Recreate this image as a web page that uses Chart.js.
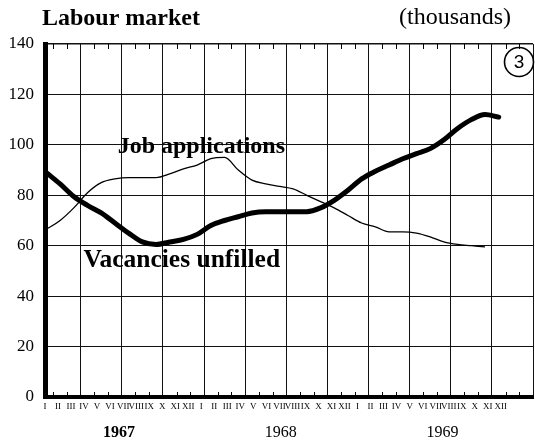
<!DOCTYPE html>
<html lang="en">
<head>
<meta charset="UTF-8">
<title>Labour market</title>
<script src="https://cdn.jsdelivr.net/npm/chart.js@4.4.0/dist/chart.umd.min.js"></script>
<style>
  html, body { margin: 0; padding: 0; background: #fff; }
  #wrap { width: 535px; height: 442px; }
</style>
</head>
<body>
<div id="wrap"><canvas id="labourChart" width="535" height="442"></canvas></div>
<script>
// monthly figures in thousands, starting January 1967
const romanMonths = ['I', 'II', 'III', 'IV', 'V', 'VI', 'VII', 'VIII', 'IX', 'X', 'XI', 'XII'];
const years = ['1967', '1968', '1969'];
const yTicks = [0, 20, 40, 60, 80, 100, 120, 140];

const vacancies = [89, 84.5, 79.5, 76, 73, 69, 65, 61.5, 60.5, 61.5, 62.5, 64.5,
                   68, 70, 71.5, 73, 73.5, 73.5, 73.5, 73.5, 75, 78, 82, 86.5,
                   89.5, 92, 94.5, 96.5, 98.5, 102, 106.5, 110, 112, 111];
const jobApplications = [66.5, 70, 75, 81, 85, 86.5, 87, 87, 87, 88.5, 90.5, 92,
                         94.5, 95, 90, 86, 84.5, 83.5, 82.5, 80, 77.5, 75, 72, 69,
                         67.5, 65.5, 65.5, 65, 63.5, 61.5, 60.5, 60, 59.5];

const serif = '"Liberation Serif", "Times New Roman", serif';
const monthCount = years.length * 12;
const xMin = 0.4;

// each value sits in the middle of its month
const toPoints = arr => arr.map((v, i) => ({ x: i + 0.5, y: v }));

// titles, year captions, line captions, little month ticks, circled number
const decorations = {
    id: 'decorations',
    afterDraw(chart) {
        const ctx = chart.ctx;
        const x = chart.scales.x, y = chart.scales.y;
        const area = chart.chartArea;
        ctx.save();
        ctx.fillStyle = '#000';
        ctx.strokeStyle = '#000';

        // month ticks on the top and bottom edges
        ctx.lineWidth = 1;
        for (let m = 1; m < monthCount; m++) {
            if (m % 3 === 0) continue;
            const px = Math.round(x.getPixelForValue(m)) + 0.5;
            ctx.beginPath();
            ctx.moveTo(px, area.top);
            ctx.lineTo(px, area.top + 5);
            ctx.moveTo(px, area.bottom);
            ctx.lineTo(px, area.bottom - 5);
            ctx.stroke();
        }

        ctx.textBaseline = 'alphabetic';
        ctx.font = 'bold 24px ' + serif;
        ctx.textAlign = 'left';
        ctx.fillText('Labour market', 42, 25);
        ctx.font = '24px ' + serif;
        ctx.textAlign = 'right';
        ctx.fillText('(thousands)', 511, 24);

        // line captions
        ctx.textAlign = 'left';
        ctx.font = 'bold 24px ' + serif;
        ctx.fillText('Job applications', x.getPixelForValue(5.7), y.getPixelForValue(96.8));
        ctx.font = 'bold 25.5px ' + serif;
        ctx.fillText('Vacancies unfilled', x.getPixelForValue(3.2), y.getPixelForValue(51.6));

        // year captions under the month numerals
        const yearAnchor = [5.8, 17.6, 29.4];
        ctx.textAlign = 'center';
        ctx.textBaseline = 'middle';
        years.forEach((yr, k) => {
            ctx.font = (k === 0 ? 'bold ' : '') + '16px ' + serif;
            ctx.fillText(yr, x.getPixelForValue(yearAnchor[k]), 433);
        });

        // circled chart number
        ctx.lineWidth = 1.6;
        ctx.beginPath();
        ctx.arc(519, 62, 14.5, 0, Math.PI * 2);
        ctx.stroke();
        ctx.font = '19px "Liberation Sans", Arial, sans-serif';
        ctx.fillText('3', 519, 63);
        ctx.restore();
    }
};

new Chart(document.getElementById('labourChart'), {
    type: 'line',
    data: {
        datasets: [
            {
                label: 'Vacancies unfilled',
                data: toPoints(vacancies),
                borderColor: '#000',
                borderWidth: 5,
                borderCapStyle: 'round',
                pointRadius: 0,
                cubicInterpolationMode: 'monotone',
                fill: false,
            },
            {
                label: 'Job applications',
                data: toPoints(jobApplications),
                borderColor: '#000',
                borderWidth: 1.3,
                pointRadius: 0,
                cubicInterpolationMode: 'monotone',
                fill: false,
            },
        ]
    },
    options: {
        responsive: false,
        animation: false,
        devicePixelRatio: 1,
        layout: { padding: { top: 44, right: 2, left: 0, bottom: 0 } },
        plugins: {
            legend: { display: false },
            tooltip: { enabled: false },
        },
        scales: {
            x: {
                type: 'linear',
                min: xMin,
                max: monthCount,
                afterBuildTicks: s => {
                    s.ticks = [];
                    for (let m = 3; m <= monthCount; m += 3) s.ticks.push({ value: m });
                },
                ticks: { display: false },
                grid: { color: '#111', lineWidth: 1, drawTicks: false },
                border: { color: '#000', width: 4 },
                afterFit: s => { s.height = 0; },
            },
            months: {
                type: 'linear',
                position: 'bottom',
                min: xMin,
                max: monthCount,
                afterBuildTicks: s => {
                    s.ticks = [];
                    for (let i = 0; i < monthCount; i++) s.ticks.push({ value: xMin + i * 0.95 });
                },
                ticks: {
                    autoSkip: false,
                    maxRotation: 0,
                    padding: -4,
                    color: '#000',
                    font: { family: serif, size: 9 },
                    callback: (v, i) => romanMonths[i % 12],
                },
                grid: { display: false },
                border: { display: false },
                afterFit: s => { s.height = 45; },
            },
            y: {
                min: 0,
                max: 140,
                afterBuildTicks: s => { s.ticks = yTicks.map(v => ({ value: v })); },
                ticks: {
                    color: '#000',
                    padding: 11,
                    font: { family: serif, size: 17 },
                },
                grid: {
                    color: '#111',
                    lineWidth: c => (c.tick && c.tick.value === 140 ? 1.6 : 1),
                    drawTicks: false,
                },
                border: { color: '#000', width: 5 },
                afterFit: s => { s.width = 45; },
            },
        },
    },
    plugins: [decorations],
});
</script>
</body>
</html>
